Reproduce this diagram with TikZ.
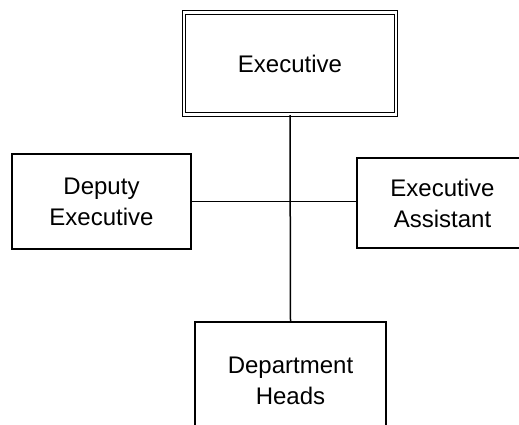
\documentclass[tikz,border=0pt]{standalone}
\usepackage{fontspec}
\setmainfont{Liberation Sans}

\begin{document}
\begin{tikzpicture}[x=1pt,y=-1pt,line width=1.5pt,
    box/.style={rectangle,draw,align=center,inner sep=0pt,
        font=\fontsize{24}{31}\selectfont},
    topbox/.style={box,double,double distance=2.2pt,line width=1.2pt}]
    \useasboundingbox (0,0) rectangle (519,424);

    \node[topbox,minimum width=212,minimum height=102] (exec) at (290,63.5) {Executive};
    \node[box,minimum width=179,minimum height=95] (deputy) at (101.5,201.5) {Deputy\\Executive};
    \node[box,minimum width=171,minimum height=90] (assist) at (442.5,203) {Executive\\Assistant};
    \node[box,minimum width=191,minimum height=118] (heads) at (290.5,381) {Department\\Heads};

    \draw (exec.south) -- (heads.north);
    \draw (deputy.east) -- (deputy.east -| assist.west);
\end{tikzpicture}
\end{document}
